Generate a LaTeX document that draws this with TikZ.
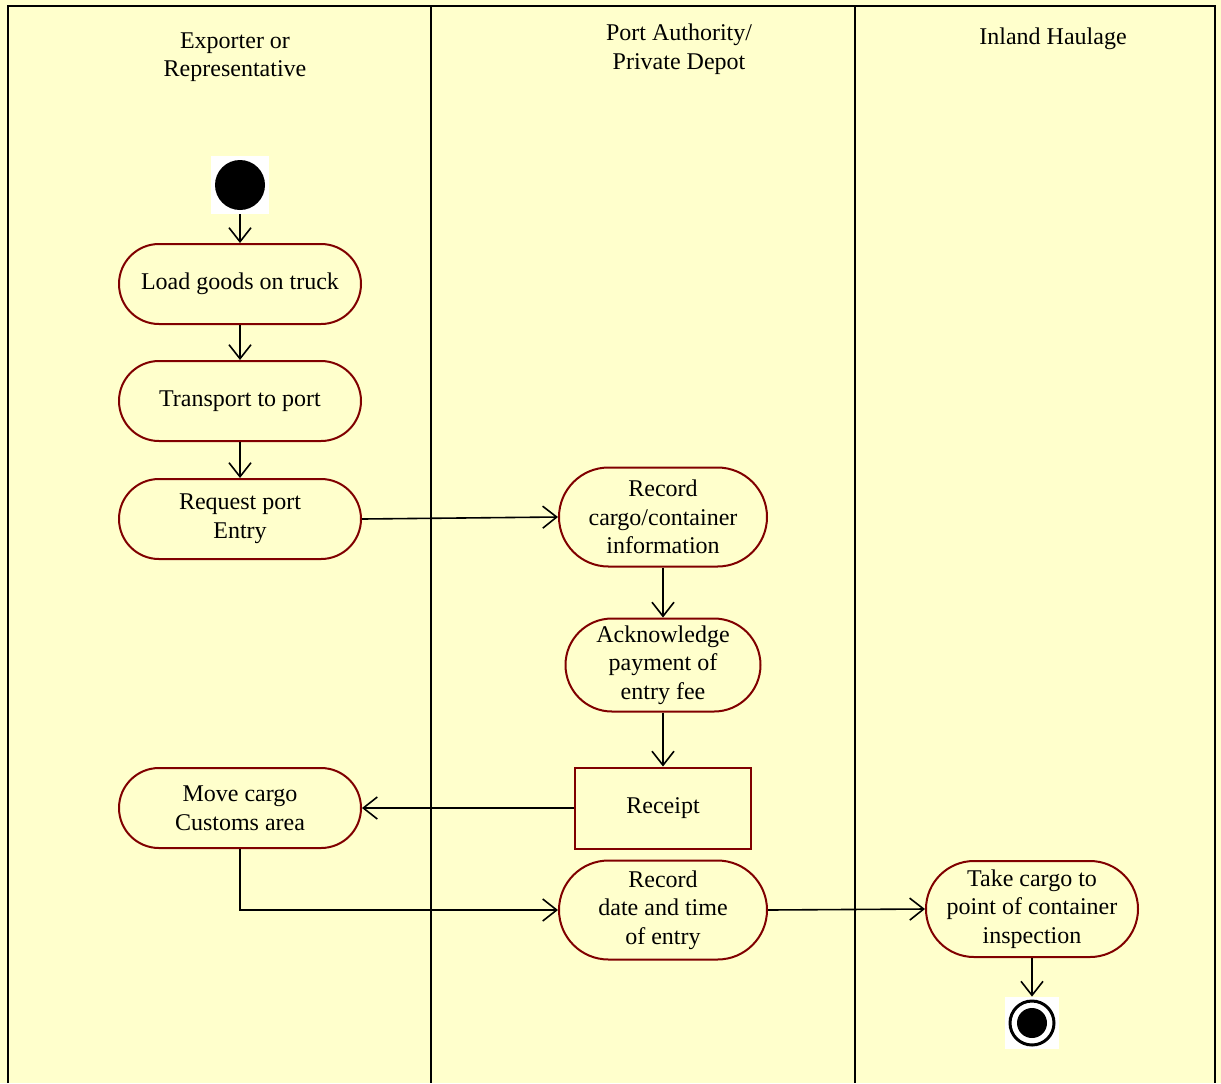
\documentclass[tikz,border=0pt]{standalone}
\usepackage{fontspec}
\setmainfont{Liberation Serif}
\usetikzlibrary{shapes.misc,arrows.meta}
\definecolor{laneyellow}{HTML}{FFFFCC}
\definecolor{actred}{HTML}{800000}
\tikzset{
    act/.style={rounded rectangle, draw=actred, line width=1pt, fill=laneyellow,
        align=center, inner sep=0pt, minimum width=121pt, minimum height=40pt,
        font=\fontsize{12}{14.3}\selectfont},
    rcpt/.style={rectangle, draw=actred, line width=1pt, fill=laneyellow,
        align=center, minimum width=88pt, minimum height=40.5pt,
        font=\fontsize{12}{14.3}\selectfont},
    lanetitle/.style={align=center, font=\fontsize{12}{14.3}\selectfont},
    flow/.style={-{Straight Barb[length=7pt,width=11pt]}, line width=0.8pt},
    lane/.style={line width=1pt}
}
\begin{document}
\begin{tikzpicture}[x=0.5pt, y=-0.5pt]
    \fill[laneyellow] (0,0) rectangle (1221,1083);
    \useasboundingbox (0,0) rectangle (1221,1083);
    \draw[lane] (8,1083) -- (8,6) -- (1215,6) -- (1215,1083);
    \draw[lane] (431,6) -- (431,1083);
    \draw[lane] (855,6) -- (855,1083);
    \draw (235,57) node[lanetitle](exporter){Exporter or\\Representative};
    \draw (679,49) node[lanetitle](port){Port Authority/\\Private Depot};
    \draw (1053,39) node[lanetitle](haulage){Inland Haulage};
    \draw (240,185) node[fill=white, minimum size=29pt, inner sep=0pt](start){};
    \fill (start.center) circle[radius=12.5pt];
    \draw (240,284) node[act](load){Load goods on truck};
    \draw (240,401) node[act](transport){Transport to port};
    \draw (240,519) node[act](request){Request port\\Entry};
    \draw (663,517) node[act, minimum width=104pt, minimum height=49.5pt](reccargo){Record\\cargo/container\\information};
    \draw (663,665) node[act, minimum width=97.5pt, minimum height=46.5pt](ack){Acknowledge\\payment of\\entry fee};
    \draw (663,808) node[rcpt](receipt){Receipt};
    \draw (240,808) node[act](move){Move cargo\\Customs area};
    \draw (663,910) node[act, minimum width=104pt, minimum height=49.5pt](recdate){Record\\date and time\\of entry};
    \draw (1032,909) node[act, minimum width=104.5pt, minimum height=48pt](take){Take cargo to\\point of container\\inspection};
    \draw (1032,1023) node[fill=white, minimum width=27pt, minimum height=26pt, inner sep=0pt](finish){};
    \draw[line width=1.5pt] (finish.center) circle[radius=11pt];
    \fill (finish.center) circle[radius=7.5pt];
    \draw[flow] (start.south) -- (load.north);
    \draw[flow] (load.south) -- (transport.north);
    \draw[flow] (transport.south) -- (request.north);
    \draw[flow] (request.east) -- (reccargo.west);
    \draw[flow] (reccargo.south) -- (ack.north);
    \draw[flow] (ack.south) -- (receipt.north);
    \draw[flow] (receipt.west) -- (move.east);
    \draw[flow] (move.south) |- (recdate.west);
    \draw[flow] (recdate.east) -- (take.west);
    \draw[flow] (take.south) -- (finish.north);
\end{tikzpicture}
\end{document}
